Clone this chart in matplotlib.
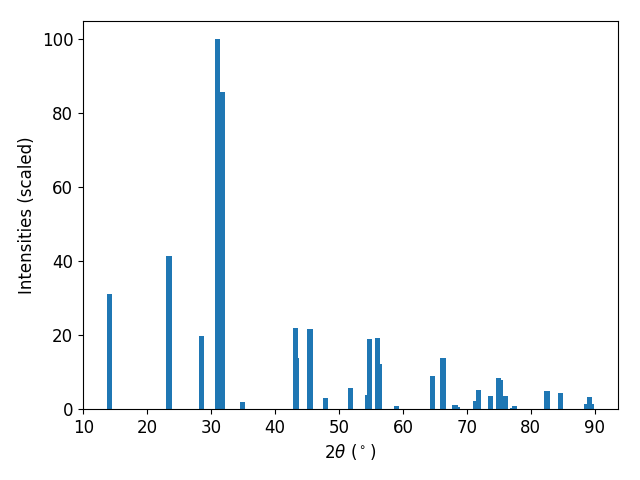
import matplotlib
matplotlib.use("Agg")
import matplotlib.pyplot as plt

two_theta = [14.14, 23.36, 23.5, 28.5, 31.0, 31.8, 34.9,
             43.2, 43.36, 45.4, 45.55, 47.9, 51.8, 54.45, 54.72,
             56.0, 56.3, 59.0, 64.6, 66.18, 66.33, 68.05, 68.2, 68.5,
             71.3, 71.8, 73.67, 74.92, 75.23, 76.0, 77.1, 77.4,
             82.42, 82.58, 84.6, 88.67, 89.14, 89.45]
intensities = [31.2, 41.5, 41.5, 19.8, 100.0, 85.9, 1.9,
               22.0, 13.8, 21.7, 21.7, 3.0, 5.7, 3.8, 19.0,
               19.2, 12.2, 0.8, 8.9, 13.8, 13.8, 1.1, 1.1, 0.5,
               2.2, 5.1, 3.5, 8.4, 7.9, 3.5, 0.3, 0.8,
               4.9, 4.9, 4.3, 1.4, 3.2, 1.4]

plt.rcParams['font.size'] = 12
fig, ax = plt.subplots(figsize=(6.4, 4.8), dpi=100)
ax.bar(two_theta, intensities, width=0.8, color='#1f77b4')
ax.set_xlabel(r"$2\theta$ ($^\circ$)")
ax.set_ylabel("Intensities (scaled)")
fig.subplots_adjust(left=83/640, right=618/640, top=1-21/480, bottom=1-409/480)
fig.savefig("out.png")
